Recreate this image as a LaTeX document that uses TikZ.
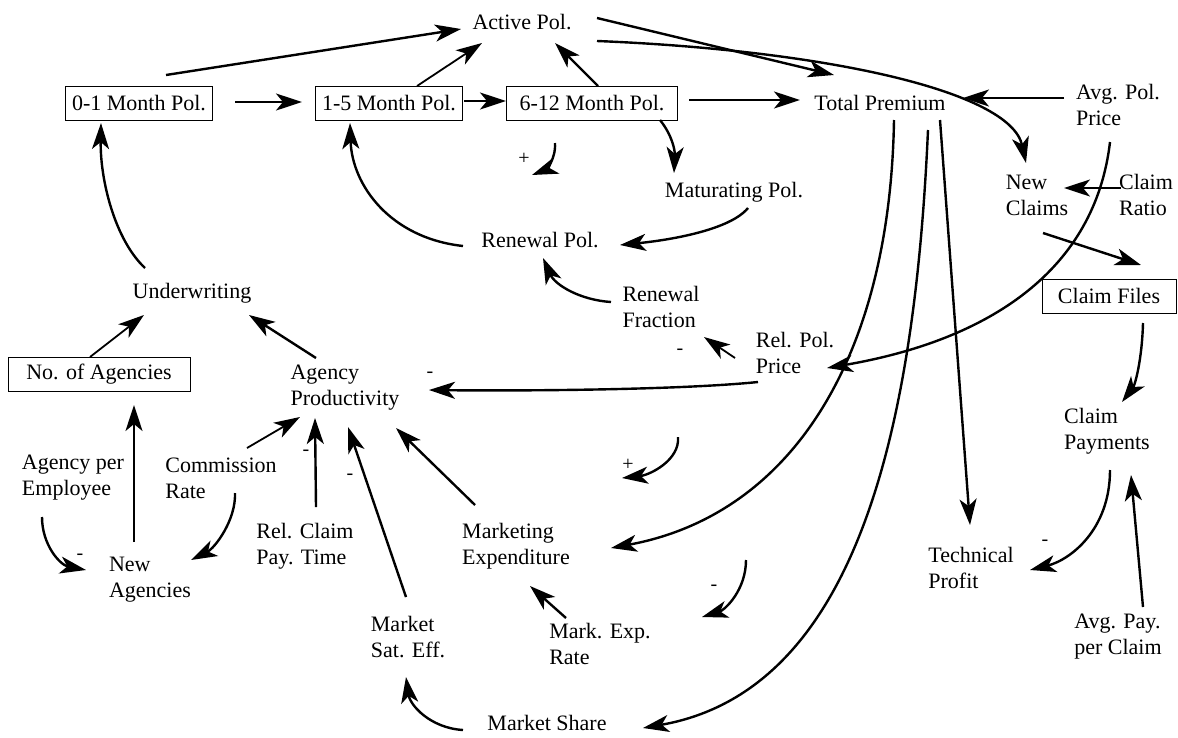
\documentclass[tikz,border=0pt]{standalone}
\usepackage{fontspec}
\setmainfont{Liberation Serif}
\usetikzlibrary{arrows.meta,calc}
\begin{document}
\begin{tikzpicture}[x=1pt,y=-1pt,
  lab/.style={inner sep=0pt, font=\fontsize{22}{26}\selectfont, align=left},
  stock/.style={draw, line width=1pt, inner xsep=7pt, inner ysep=0pt, minimum height=34pt, font=\fontsize{22}{26}\selectfont},
  conn/.style={line width=2.4pt, -{Stealth[length=26pt,width=17pt,inset=7pt]}},
  thinconn/.style={conn, line width=1.8pt},
  sign/.style={inner sep=0pt, font=\fontsize{20}{22}\selectfont},
]
\useasboundingbox (0,0) rectangle (1178,737);
% nodes
\node[lab] (act) at (522,22) {Active Pol.};
\node[stock] (b01) at (139,103) {0-1 Month Pol.};
\node[stock] (b15) at (389,103) {1-5 Month Pol.};
\node[stock, minimum width=171pt] (b612) at (592,103) {6-12 Month Pol.};
\node[lab] (tp) at (880,103) {Total Premium};
\node[lab] (avg) at (1118,105) {Avg. Pol.\\Price};
\node[lab] (mat) at (734,192) {Maturating Pol.};
\node[lab] (ren) at (540,240) {Renewal Pol.};
\node[lab] (nc) at (1037,195) {New\\Claims};
\node[lab] (cr) at (1146,195) {Claim\\Ratio};
\node[stock, minimum width=134pt] (cf) at (1109,296) {Claim Files};
\node[lab] (cp) at (1107,431) {Claim\\Payments};
\node[lab] (app) at (1118,637) {Avg. Pay.\\per Claim};
\node[lab] (tpf) at (971,568) {Technical\\Profit};
\node[lab] (me) at (516,546) {Marketing\\Expenditure};
\node[lab] (ms) at (547,723) {Market Share};
\node[lab] (mse) at (408,637) {Market\\Sat. Eff.};
\node[lab] (mer) at (600,644) {Mark. Exp.\\Rate};
\node[lab] (rcp) at (305,546) {Rel. Claim\\Pay. Time};
\node[lab] (com) at (221,478) {Commission\\Rate};
\node[lab] (na) at (150,580) {New\\Agencies};
\node[lab] (ape) at (73,478) {Agency per\\Employee};
\node[stock, minimum width=182pt] (noa) at (99,374) {No. of Agencies};
\node[lab] (und) at (192,293) {Underwriting};
\node[lab] (ap) at (345,388) {Agency\\Productivity};
\node[lab] (rf) at (661,307) {Renewal\\Fraction};
\node[lab] (rpp) at (795,353) {Rel. Pol.\\Price};
% polarity markers
\coordinate (p1s) at (555,143); \coordinate (p1e) at (532,175);
\coordinate (p2s) at (678,437); \coordinate (p2e) at (622,478);
\coordinate (p3s) at (746,560); \coordinate (p3e) at (702,617);
\node[sign] (s1) at (524,159) {+};
\node[sign] (s2) at (628,465) {+};
\node[sign] (s3) at (714,588) {-};
\node[sign] (s4) at (680,352) {-};
\node[sign] (s5) at (430,375) {-};
\node[sign] (s6) at (306,453) {-};
\node[sign] (s7) at (350,477) {-};
\node[sign] (s8) at (80,557) {-};
\node[sign] (s9) at (1045,543) {-};
% connectors
\draw[conn] ($(b01)+(27,-28)$) -- ($(act)+(-61,7)$);
\draw[conn] ($(b01)+(96,-1)$) -- ($(b15)+(-87,-1)$);
\draw[thinconn] ($(b15)+(28,-17)$) -- ($(act)+(-40,21)$);
\draw[conn] ($(b15)+(75,-2)$) -- ($(b612)+(-86,-2)$);
\draw[conn] ($(b612)+(6,-17)$) -- ($(act)+(33,21)$);
\draw[conn] ($(act)+(75,-4)$) -- ($(tp)+(-46,-28)$);
\draw[conn] ($(act)+(75,19)$) .. controls (820,50) and (1010,90) .. ($(nc)+(-11,-32)$);
\draw[conn] ($(b612)+(97,-3)$) -- ($(tp)+(-80,-3)$);
\draw[conn] ($(avg)+(-54,-7)$) -- ($(tp)+(83,-5)$);
\draw[conn] ($(b612)+(68,17)$) .. controls (672,135) and (675,150) .. ($(mat)+(-60,-19)$);
\draw[conn] ($(mat)+(14,16)$) .. controls (730,230) and (670,240) .. ($(ren)+(80,5)$);
\draw[conn] ($(ren)+(-77,6)$) .. controls (390,238) and (352,185) .. ($(b15)+(-39,20)$);
\draw[conn] ($(und)+(-47,-25)$) .. controls (115,240) and (100,180) .. ($(b01)+(-38,20)$);
\draw[thinconn] ($(noa)+(-9,-17)$) -- ($(und)+(-48,22)$);
\draw[conn] ($(ap)+(-29,-30)$) -- ($(und)+(57,22)$);
\draw[conn] ($(rpp)+(-37,29)$) .. controls (680,390) and (520,391) .. ($(ap)+(84,2)$);
\draw[thinconn] ($(rpp)+(-60,5)$) -- ($(rf)+(43,30)$);
\draw[conn] ($(rf)+(-50,-5)$) .. controls (580,300) and (555,285) .. ($(ren)+(3,18)$);
\draw[conn] ($(avg)+(-8,37)$) .. controls (1095,270) and (990,340) .. ($(rpp)+(32,15)$);
\draw[conn] ($(nc)+(6,38)$) -- ($(cf)+(32,-31)$);
\draw[conn] ($(cr)+(-25,-7)$) -- ($(nc)+(27,-7)$);
\draw[conn] ($(cf)+(34,27)$) .. controls (1142,360) and (1135,385) .. ($(cp)+(15,-29)$);
\draw[conn] ($(cp)+(3,39)$) .. controls (1110,530) and (1070,560) .. ($(tpf)+(59,2)$);
\draw[conn] ($(app)+(25,-30)$) -- ($(cp)+(24,44)$);
\draw[conn] ($(tp)+(14,17)$) .. controls (890,360) and (790,515) .. ($(me)+(95,2)$);
\draw[conn] ($(tp)+(48,27)$) .. controls (915,420) and (860,690) .. ($(ms)+(96,5)$);
\draw[conn] ($(tp)+(60,17)$) -- ($(tpf)+(-1,-43)$);
\draw[conn] ($(me)+(-41,-41)$) -- ($(ap)+(51,40)$);
\draw[conn] ($(mse)+(-2,-40)$) -- ($(ap)+(3,39)$);
\draw[conn] ($(rcp)+(11,-39)$) -- ($(ap)+(-30,30)$);
\draw[thinconn] ($(com)+(26,-30)$) -- ($(ap)+(-45,29)$);
\draw[conn] ($(com)+(14,15)$) .. controls (236,520) and (215,548) .. ($(na)+(41,-20)$);
\draw[conn] ($(ape)+(-31,39)$) .. controls (42,545) and (60,565) .. ($(na)+(-64,-10)$);
\draw[conn] ($(na)+(-16,-38)$) -- ($(noa)+(35,31)$);
\draw[conn] ($(mer)+(-34,-26)$) -- ($(me)+(14,40)$);
\draw[conn] ($(ms)+(-84,7)$) .. controls (430,728) and (410,705) .. ($(mse)+(-2,40)$);
\draw[conn] (p1s) .. controls (556,160) and (545,170) .. (p1e);
\draw[conn] (p2s) .. controls (680,460) and (650,475) .. (p2e);
\draw[conn] (p3s) .. controls (746,590) and (725,610) .. (p3e);
\end{tikzpicture}
\end{document}
